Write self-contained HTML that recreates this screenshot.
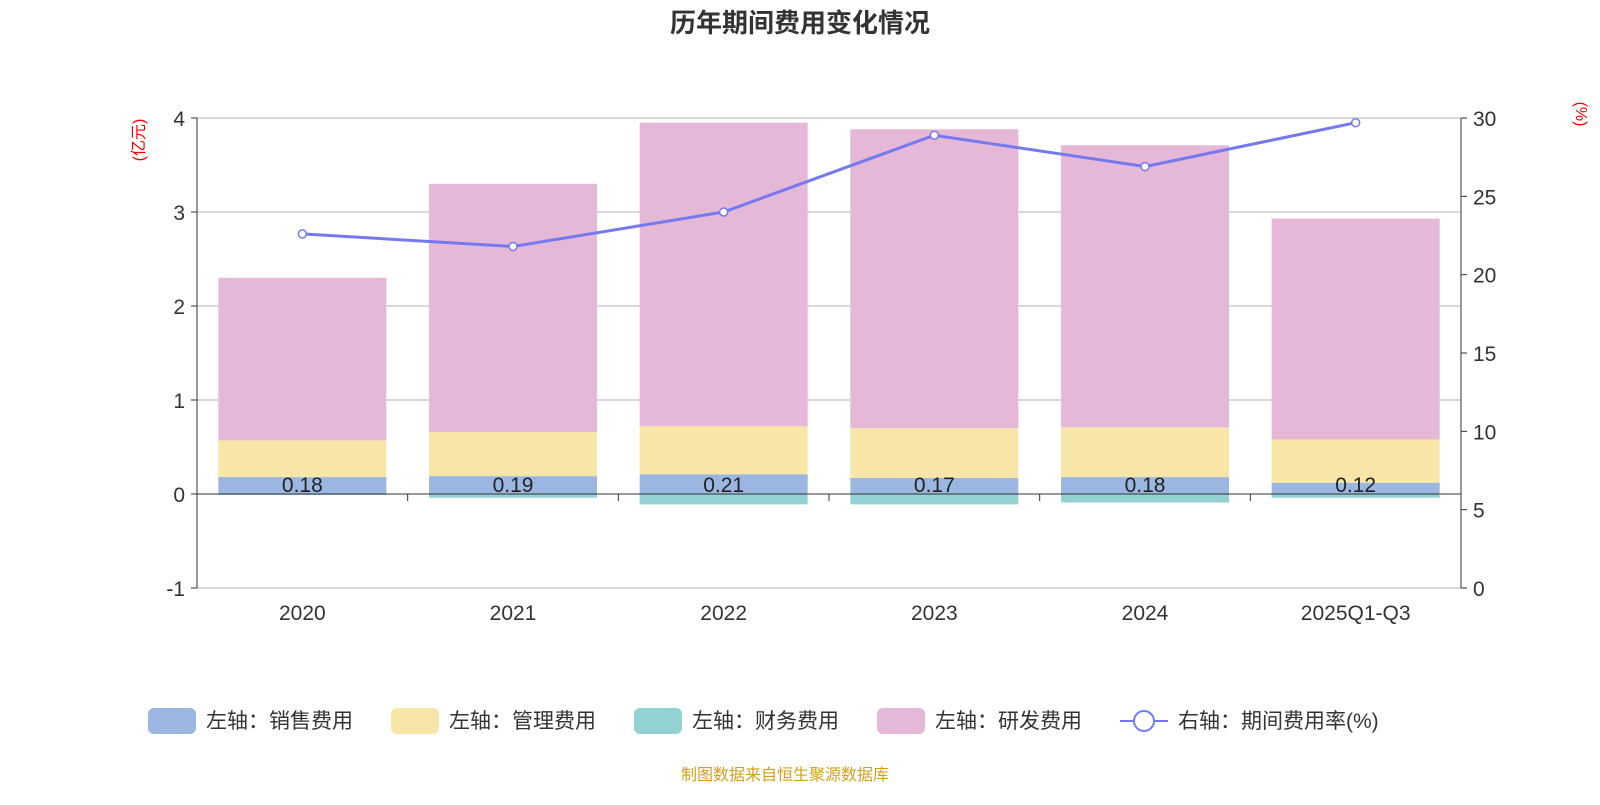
<!DOCTYPE html>
<html><head><meta charset="utf-8"><style>
body{margin:0;background:#fff;font-family:"Liberation Sans","Noto Sans CJK SC",sans-serif;}
svg text{font-family:"Liberation Sans","Noto Sans CJK SC",sans-serif;}
</style></head><body>
<svg id="c" width="1600" height="800" xmlns="http://www.w3.org/2000/svg">
<text x="800" y="32" text-anchor="middle" font-size="26" font-weight="bold" fill="#333">历年期间费用变化情况</text>
<text transform="translate(144,140) rotate(-90)" text-anchor="middle" font-size="16" fill="#e00">(亿元)</text>
<text transform="translate(1576,114) rotate(90)" text-anchor="middle" font-size="16" fill="#e00">(%)</text>
<g id="grid"></g><g id="bars"></g><g id="axes"></g><g id="line"></g>
<g font-size="21" fill="#333">
<g><rect x="148" y="708" width="48" height="26" rx="6" fill="#9bb6e0"/><text x="206" y="728">左轴：销售费用</text></g>
<g><rect x="391" y="708" width="48" height="26" rx="6" fill="#f7e6a8"/><text x="449" y="728">左轴：管理费用</text></g>
<g><rect x="634" y="708" width="48" height="26" rx="6" fill="#93d2d3"/><text x="692" y="728">左轴：财务费用</text></g>
<g><rect x="877" y="708" width="48" height="26" rx="6" fill="#e6b8d8"/><text x="935" y="728">左轴：研发费用</text></g>
<g><line x1="1120" y1="721" x2="1168" y2="721" stroke="#7579f0" stroke-width="2"/><circle cx="1144" cy="721" r="10" fill="#fff" stroke="#7579f0" stroke-width="2"/><text x="1178" y="728">右轴：期间费用率(%)</text></g>
</g>
<text x="785" y="780" text-anchor="middle" font-size="16" fill="#d4a017">制图数据来自恒生聚源数据库</text>
</svg>
<script>
const categories=["2020","2021","2022","2023","2024","2025Q1-Q3"];
const sales=[0.18,0.19,0.21,0.17,0.18,0.12];
const admin=[0.39,0.47,0.51,0.53,0.53,0.46];
const finance=[-0.01,-0.04,-0.11,-0.11,-0.09,-0.04];
const rnd=[1.73,2.64,3.23,3.18,3.00,2.35];
const rate=[22.6,21.8,24.0,28.9,26.9,29.7];
const leftTicks=[-1,0,1,2,3,4];
const rightTicks=[0,5,10,15,20,25,30];
const NS="http://www.w3.org/2000/svg";
const x0=197,x1=1461,yL=v=>494-v*94,yR=v=>588-v*(470/30);
const step=(x1-x0)/categories.length,cx=i=>x0+step*(i+0.5),bw=168;
function mk(p,t,a){const e=document.createElementNS(NS,t);for(const k in a)e.setAttribute(k,a[k]);p.appendChild(e);return e;}
const G=document.getElementById('grid'),B=document.getElementById('bars'),A=document.getElementById('axes'),L=document.getElementById('line');
leftTicks.forEach(v=>{const y=yL(v);
 if(v!==0&&v!==-1){const g=mk(G,'line',{x1:x0,x2:x1,y1:y,y2:y,stroke:'#ccc','stroke-width':1.5});
 
 }
 mk(A,'line',{x1:x0-6,x2:x0,y1:y,y2:y,stroke:'#333'});
 const t=mk(A,'text',{x:x0-12,y:y+8,'text-anchor':'end','font-size':21,fill:'#333'});t.textContent=v;
 
 });
rightTicks.forEach(v=>{const y=yR(v);
 mk(A,'line',{x1:x1,x2:x1+6,y1:y,y2:y,stroke:'#333'});
 const t=mk(A,'text',{x:x1+12,y:y+8,'font-size':21,fill:'#333'});t.textContent=v;
 
 });
categories.forEach((c,i)=>{const x=cx(i)-bw/2;
 const s=[[0,sales[i],'#9bb6e0','bar-sales'],[sales[i],sales[i]+admin[i],'#f7e6a8','bar-admin'],[sales[i]+admin[i],sales[i]+admin[i]+rnd[i],'#e6b8d8','bar-rnd'],[0,finance[i],'#93d2d3','bar-finance']];
 s.forEach(([a,b,col,n])=>{const r=mk(B,'rect',{x:x,width:bw,y:Math.min(yL(a),yL(b)),height:Math.abs(yL(a)-yL(b)),fill:col});
  
  });
 const t=mk(B,'text',{x:cx(i),y:yL(0)-2,'text-anchor':'middle','font-size':21,fill:'#222'});t.textContent=sales[i].toFixed(2);
 
 
 const l=mk(A,'text',{x:cx(i),y:620,'text-anchor':'middle','font-size':21,fill:'#333'});l.textContent=c;
 
 });
mk(A,'line',{x1:x0,x2:x1,y1:yL(-1),y2:yL(-1),stroke:'#ccc','stroke-width':1.5});
mk(A,'line',{x1:x0,x2:x1,y1:yL(0),y2:yL(0),stroke:'#333'});
for(let i=0;i<=categories.length;i++)mk(A,'line',{x1:x0+step*i,x2:x0+step*i,y1:yL(0),y2:yL(0)+7,stroke:'#333'});
mk(A,'line',{x1:x0,x2:x0,y1:yL(4),y2:yL(-1),stroke:'#333'});
mk(A,'line',{x1:x1,x2:x1,y1:yR(30),y2:yR(0),stroke:'#333'});
const pl=mk(L,'polyline',{points:rate.map((v,i)=>cx(i)+','+yR(v)).join(' '),fill:'none',stroke:'#7579f0','stroke-width':3});


rate.forEach((v,i)=>{const p=mk(L,'circle',{cx:cx(i),cy:yR(v),r:4,fill:'#fff',stroke:'#7579f0','stroke-width':1.5});
 
 });
</script>
</body></html>
